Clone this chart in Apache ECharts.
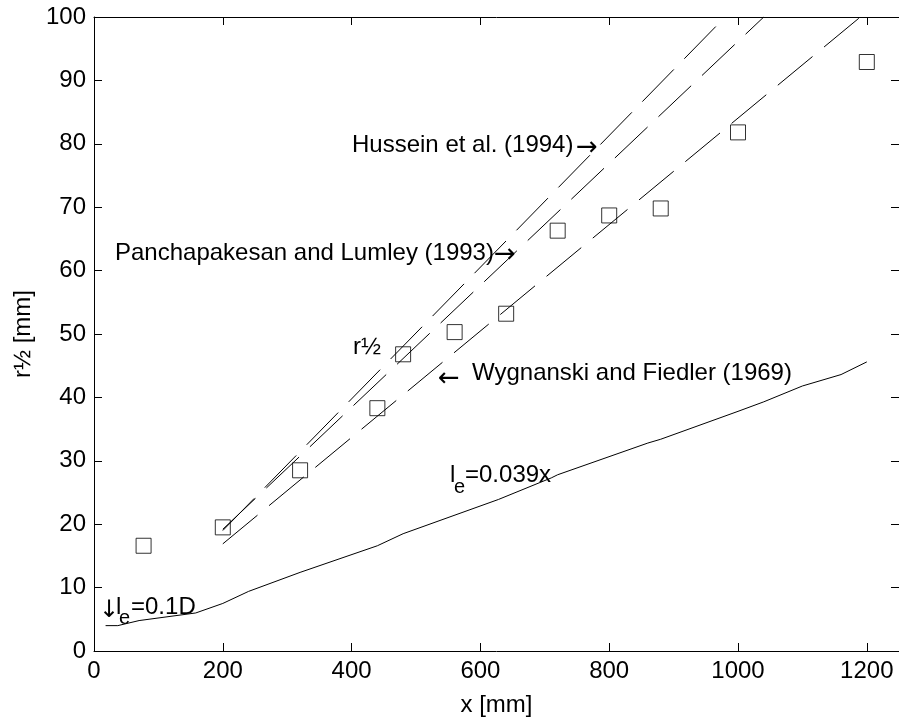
<!DOCTYPE html>
<html>
<head>
<meta charset="utf-8">
<script src="https://cdn.jsdelivr.net/npm/echarts@6/dist/echarts.min.js"></script>
<style>
  html, body { margin: 0; padding: 0; background: #fff; }
  #chart { width: 899px; height: 722px; }
</style>
</head>
<body>
<div id="chart"></div>
<script>
// Axis ticks
var xTicks = [0, 200, 400, 600, 800, 1000, 1200];
var yTicks = [0, 10, 20, 30, 40, 50, 60, 70, 80, 90, 100];

// Measured half-width radius r1/2 (squares)
var rHalfX = [77, 200, 320, 440, 480, 560, 640, 720, 800, 880, 1000, 1200];
var rHalfY = [16.6, 19.5, 28.5, 38.3, 46.8, 50.3, 53.2, 66.3, 68.7, 69.8, 81.8, 92.9];

// Literature spreading rates (dashed lines, end points)
var husseinX = [200, 980];
var husseinY = [19.0, 100];
var panchX = [200, 1040];
var panchY = [19.2, 100];
var wygX = [200, 1190];
var wygY = [16.9, 100];

// Integral length scale l_e (solid line)
var leX = [18, 37, 70, 158, 200, 240, 320, 440, 480, 628, 710, 720, 860, 880, 1000, 1040, 1100, 1160, 1200];
var leY = [4.0, 4.0, 4.8, 6.0, 7.5, 9.4, 12.4, 16.6, 18.5, 23.9, 27.3, 27.8, 32.8, 33.4, 37.8, 39.3, 41.8, 43.6, 45.6];

function pairs(xs, ys) {
  return xs.map(function (x, i) { return [x, ys[i]]; });
}

var FONT = '"Liberation Sans", Arial, Helvetica, sans-serif';
var ARROW_FONT = '"DejaVu Sans", sans-serif';

function txt(text, x, y, size, family) {
  return {
    type: 'text',
    x: x,
    y: y,
    silent: true,
    style: {
      text: text,
      fill: '#000',
      font: (size || 24) + 'px ' + (family || FONT),
      align: 'left',
      verticalAlign: 'middle',
      textAlign: 'left',
      textVerticalAlign: 'middle'
    }
  };
}

function plain(v) { return String(v); }

var dash = [45, 15];

var chart = echarts.init(document.getElementById('chart'), null, { renderer: 'canvas' });

var axisCommon = {
  type: 'value',
  splitLine: { show: false },
  axisLine: { show: true, onZero: false, lineStyle: { color: '#000', width: 1 } },
  axisTick: { show: true, inside: true, length: 8, lineStyle: { color: '#000', width: 1 } }
};

chart.setOption({
  animation: false,
  backgroundColor: '#fff',
  grid: { left: 94, top: 17, right: -3, bottom: 68, containLabel: false },
  xAxis: [
    Object.assign({}, axisCommon, {
      min: 0, max: 1250,
      position: 'bottom',
      name: 'x [mm]',
      nameLocation: 'middle',
      nameGap: 42,
      nameTextStyle: { fontFamily: FONT, fontSize: 24, color: '#000' },
      axisTick: Object.assign({}, axisCommon.axisTick, { customValues: xTicks }),
      axisLabel: { customValues: xTicks, formatter: plain, margin: 8, fontFamily: FONT, fontSize: 24, color: '#000' }
    }),
    Object.assign({}, axisCommon, {
      min: 0, max: 1250,
      position: 'top',
      axisTick: Object.assign({}, axisCommon.axisTick, { customValues: xTicks }),
      axisLabel: { show: false }
    })
  ],
  yAxis: [
    Object.assign({}, axisCommon, {
      min: 0, max: 100,
      position: 'left',
      name: 'r½ [mm]',
      nameLocation: 'middle',
      nameGap: 52,
      nameRotate: 90,
      nameTextStyle: { fontFamily: FONT, fontSize: 24, color: '#000' },
      axisTick: Object.assign({}, axisCommon.axisTick, { customValues: yTicks }),
      axisLabel: { customValues: yTicks, formatter: plain, margin: 8, fontFamily: FONT, fontSize: 24, color: '#000' }
    }),
    Object.assign({}, axisCommon, {
      min: 0, max: 100,
      position: 'right',
      axisTick: Object.assign({}, axisCommon.axisTick, { customValues: yTicks }),
      axisLabel: { show: false }
    })
  ],
  series: [
    {
      name: 'Hussein et al. (1994)',
      type: 'line',
      data: pairs(husseinX, husseinY),
      showSymbol: false,
      clip: true,
      lineStyle: { color: '#000', width: 1, type: dash }
    },
    {
      name: 'Panchapakesan and Lumley (1993)',
      type: 'line',
      data: pairs(panchX, panchY),
      showSymbol: false,
      clip: true,
      lineStyle: { color: '#000', width: 1, type: dash }
    },
    {
      name: 'Wygnanski and Fiedler (1969)',
      type: 'line',
      data: pairs(wygX, wygY),
      showSymbol: false,
      clip: true,
      lineStyle: { color: '#000', width: 1, type: dash }
    },
    {
      name: 'l_e',
      type: 'line',
      data: pairs(leX, leY),
      showSymbol: false,
      clip: true,
      lineStyle: { color: '#000', width: 1 }
    },
    {
      name: 'r½',
      type: 'scatter',
      data: pairs(rHalfX, rHalfY),
      symbol: 'rect',
      symbolSize: 15,
      itemStyle: { color: 'rgba(0,0,0,0)', borderColor: '#000', borderWidth: 1 },
      z: 5
    }
  ],
  graphic: [
    txt('Hussein et al. (1994)', 352, 145),
    txt('→', 576, 148, 26, ARROW_FONT),
    txt('Panchapakesan and Lumley (1993)', 115, 253),
    txt('→', 494, 255, 26, ARROW_FONT),
    txt('r½', 353, 347),
    txt('←', 438, 379, 26, ARROW_FONT),
    txt('Wygnanski and Fiedler (1969)', 472, 373),
    txt('l', 450, 475),
    txt('e', 454, 487, 20),
    txt('=0.039x', 465, 475),
    txt('↓', 99, 611, 24, ARROW_FONT),
    txt('l', 116, 607),
    txt('e', 119, 618, 20),
    txt('=0.1D', 131, 607)
  ]
});
</script>
</body>
</html>
